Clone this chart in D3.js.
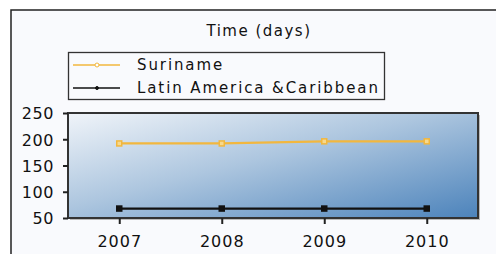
<!DOCTYPE html>
<html>
<head>
<meta charset="utf-8">
<script src="https://cdn.jsdelivr.net/npm/d3@7"></script>
<style>
  body { margin: 0; background: #fff; }
  text { font-family: "DejaVu Sans", sans-serif; fill: #111; }
</style>
</head>
<body>
<div id="chart"></div>
<script>
// chart data
const years = ["2007", "2008", "2009", "2010"];
const suriname = [192, 192, 196, 196];
const latinAmerica = [68, 68, 68, 68];
const yTicks = [50, 100, 150, 200, 250];
const seriesNames = ["Suriname", "Latin America &Caribbean"];
const seriesColors = ["#f2b73e", "#111111"];

const width = 496, height = 254;
const margin = {top: 113, right: 18, bottom: 36, left: 68};
const innerW = width - margin.left - margin.right;
const innerH = height - margin.top - margin.bottom;

const svg = d3.select('#chart').append('svg')
    .attr('width', width)
    .attr('height', height);

// outer frame
svg.append('rect')
    .attr('x', 11).attr('y', 10)
    .attr('width', 520).attr('height', 280)
    .attr('fill', '#f9fafd')
    .attr('stroke', '#222')
    .attr('stroke-width', 1.5);

svg.append('text')
    .attr('x', 259).attr('y', 36)
    .attr('text-anchor', 'middle')
    .attr('font-size', '15px')
    .attr('letter-spacing', '1.5px')
    .text('Time (days)');

// legend
const legend = svg.append('g');
legend.append('rect')
    .attr('x', 68.5).attr('y', 52.5)
    .attr('width', 316).attr('height', 47)
    .attr('fill', 'none')
    .attr('stroke', '#333')
    .attr('stroke-width', 1.3);

seriesNames.forEach((name, i) => {
    const y = 65 + i * 23;
    legend.append('line')
        .attr('x1', 73).attr('x2', 120)
        .attr('y1', y).attr('y2', y)
        .attr('stroke', seriesColors[i])
        .attr('stroke-width', 1.5);
    legend.append('circle')
        .attr('cx', 97).attr('cy', y).attr('r', i === 0 ? 2 : 1.5)
        .attr('fill', i === 0 ? '#fff' : seriesColors[i])
        .attr('stroke', seriesColors[i]);
    legend.append('text')
        .attr('x', 137).attr('y', y + 5)
        .attr('font-size', '15px')
        .attr('letter-spacing', '1.9px')
        .text(name);
});

const chart = svg.append('g')
    .attr('transform', `translate(${margin.left},${margin.top})`);

const x = d3.scalePoint().domain(years).range([0, innerW]).padding(0.5);
const y = d3.scaleLinear().domain([50, 250]).range([innerH, 0]);

// plot background gradient
const defs = svg.append('defs');
const grad = defs.append('linearGradient')
    .attr('id', 'bg')
    .attr('x1', '0%').attr('y1', '0%')
    .attr('x2', '100%').attr('y2', '100%');
grad.append('stop').attr('offset', '0%').attr('stop-color', '#f0f4f9');
grad.append('stop').attr('offset', '45%').attr('stop-color', '#adc6df');
grad.append('stop').attr('offset', '100%').attr('stop-color', '#4c83bb');

chart.append('rect')
    .attr('x', 2).attr('y', 2)
    .attr('width', innerW).attr('height', innerH)
    .attr('fill', '#bbb');
chart.append('rect')
    .attr('width', innerW).attr('height', innerH)
    .attr('fill', 'url(#bg)')
    .attr('stroke', '#333')
    .attr('stroke-width', 2);

// axes
const yAxis = chart.append('g')
    .call(d3.axisLeft(y).tickValues(yTicks).tickSize(5).tickPadding(9));
yAxis.select('.domain').remove();
yAxis.selectAll('line').attr('stroke', '#222').attr('stroke-width', 2);
yAxis.selectAll('text')
    .attr('font-size', '16px')
    .attr('letter-spacing', '0.6px')
    .attr('dy', '0.36em');

const xAxis = chart.append('g')
    .attr('transform', `translate(0,${innerH})`)
    .call(d3.axisBottom(x).tickSize(6).tickPadding(12));
xAxis.select('.domain').remove();
xAxis.selectAll('line').attr('stroke', '#222').attr('stroke-width', 2);
xAxis.selectAll('text')
    .attr('font-size', '16px')
    .attr('letter-spacing', '1px');

// series
const line = d3.line().x((d, i) => x(years[i])).y(d => y(d));
[suriname, latinAmerica].forEach((vals, i) => {
    chart.append('path')
        .datum(vals)
        .attr('d', line)
        .attr('fill', 'none')
        .attr('stroke', seriesColors[i])
        .attr('stroke-width', 2.2);
    chart.selectAll(null)
        .data(vals)
        .join('rect')
        .attr('x', (d, j) => x(years[j]) - 2.5)
        .attr('y', d => y(d) - 2.5)
        .attr('width', 5).attr('height', 5)
        .attr('fill', i === 0 ? '#f7d98e' : '#111')
        .attr('stroke', seriesColors[i])
        .attr('stroke-width', 1.5);
});
</script>
</body>
</html>
